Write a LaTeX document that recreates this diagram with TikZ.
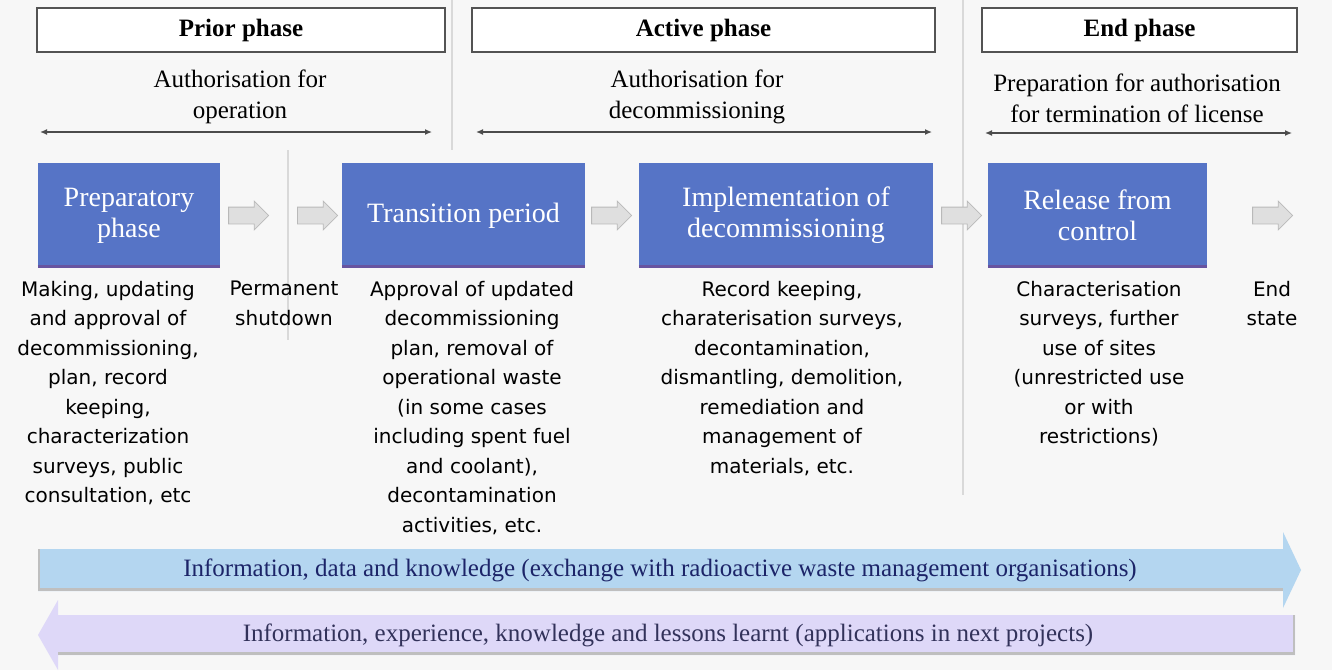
\documentclass[tikz,border=0pt]{standalone}
\usepackage{fontspec}
\setmainfont{Liberation Serif}
\newfontfamily\notesf{DejaVu Sans}
\usetikzlibrary{shapes.arrows, positioning, arrows.meta}
\definecolor{bgc}{RGB}{247,247,247}
\definecolor{boxblue}{RGB}{86,116,198}
\definecolor{boxedge}{RGB}{104,84,160}
\definecolor{infoblue}{RGB}{180,214,240}
\definecolor{infolav}{RGB}{222,216,248}
\definecolor{infotext}{RGB}{28,36,104}

\begin{document}
\begin{tikzpicture}[x=1pt, y=-1pt,
  phasebox/.style={draw=gray!65!black, line width=1.6pt, fill=white, minimum height=44pt, font=\fontsize{25}{30}\selectfont\bfseries},
  authtext/.style={align=center, font=\fontsize{25}{31}\selectfont},
  stagebox/.style={fill=boxblue, minimum height=105pt, text=white, align=center, font=\fontsize{28}{31}\selectfont},
  stepnote/.style={anchor=north, align=center, inner sep=0pt, font=\notesf\fontsize{20}{29.5}\selectfont},
  gapline/.style={gray!30, line width=1.5pt},
  stagearrow/.style={single arrow, single arrow head extend=6pt, minimum height=40pt, minimum width=28pt, inner sep=8pt, fill=gray!25, draw=gray!55, line width=0.8pt},
  spanline/.style={{Latex[length=7pt,width=6pt]}-{Latex[length=7pt,width=6pt]}, gray!60!black, line width=1.3pt},
  infotxt/.style={font=\fontsize{25}{30}\selectfont, inner sep=0pt}
]
\useasboundingbox (0,0) rectangle (1332,670);
\fill[bgc] (0,0) rectangle (1332,670);

\draw[gapline] (452,0) -- (452,150);
\draw[gapline] (963,0) -- (963,495);
\draw[gapline] (288,150) -- (288,340);

\node[phasebox, minimum width=408pt] (prior) at (241,30) {Prior phase};
\node[phasebox, minimum width=463pt] (active) at (703.5,30) {Active phase};
\node[phasebox, minimum width=315pt] (endph) at (1139.5,30) {End phase};

\node[authtext] (authop) at (240,97) {Authorisation for\\operation};
\node[authtext] (authdec) at (697,97) {Authorisation for\\decommissioning};
\node[authtext] (authend) at (1137,98) {Preparation for authorisation\\for termination of license};

\coordinate (opL) at (40,132);
\coordinate (opR) at (432,132);
\coordinate (decL) at (476,132);
\coordinate (decR) at (932,132);
\coordinate (endL) at (985,133);
\coordinate (endR) at (1292,133);
\draw[spanline] (opL) -- (opR);
\draw[spanline] (decL) -- (decR);
\draw[spanline] (endL) -- (endR);

\node[stagebox, minimum width=182pt] (prepbox) at (129,215.5) {Preparatory\\phase};
\node[stagebox, minimum width=243pt] (transbox) at (463.5,215.5) {Transition period};
\node[stagebox, minimum width=294pt] (implbox) at (786,215.5) {Implementation of\\decommissioning};
\node[stagebox, minimum width=219pt] (relbox) at (1097.5,215.5) {Release from\\control};
\foreach \b in {prepbox, transbox, implbox, relbox}
  \draw[boxedge, line width=3pt] ([yshift=1.5pt]\b.south west) -- ([yshift=1.5pt]\b.south east);

\node[stagearrow, right=8pt of prepbox] (arrprep) {};
\node[stagearrow, right=28pt of arrprep] (arrshut) {};
\node[stagearrow, right=6pt of transbox] (arrtrans) {};
\node[stagearrow, right=8pt of implbox] (arrimpl) {};
\node[stagearrow, right=45pt of relbox] (arrrel) {};

\node[stepnote] (prepnote) at (108,281) {Making, updating\\and approval of\\decommissioning,\\plan, record\\keeping,\\characterization\\surveys, public\\consultation, etc};
\node[stepnote] (shutnote) at (284,281) {Permanent\\shutdown};
\node[stepnote] (transnote) at (472,281) {Approval of updated\\decommissioning\\plan, removal of\\operational waste\\(in some cases\\including spent fuel\\and coolant),\\decontamination\\activities, etc.};
\node[stepnote] (implnote) at (782,281) {Record keeping,\\charaterisation surveys,\\decontamination,\\dismantling, demolition,\\remediation and\\management of\\materials, etc.};
\node[stepnote] (relnote) at (1099,281) {Characterisation\\surveys, further\\use of sites\\(unrestricted use\\or with\\restrictions)};
\node[stepnote] (endnote) at (1272,281) {End\\state};

\fill[infoblue] (38,549) -- (1283,549) -- (1283,532) -- (1301,570) -- (1283,608) -- (1283,591) -- (38,591) -- cycle;
\draw[gray!50, line width=3pt] (38,589.5) -- (1283,589.5);
\draw[gray!50, line width=2pt] (39,549) -- (39,591);
\node[infotxt, text=infotext] (infodata) at (660,570) {Information, data and knowledge (exchange with radioactive waste management organisations)};

\fill[infolav] (1295,615) -- (58,615) -- (58,600) -- (38,635) -- (58,670) -- (58,655) -- (1295,655) -- cycle;
\draw[gray!50, line width=3pt] (58,653.5) -- (1295,653.5);
\draw[gray!50, line width=2pt] (1294,615) -- (1294,655);
\node[infotxt, text={rgb,255:red,50;green,50;blue,90}] (infolessons) at (668,635) {Information, experience, knowledge and lessons learnt (applications in next projects)};
\end{tikzpicture}
\end{document}
